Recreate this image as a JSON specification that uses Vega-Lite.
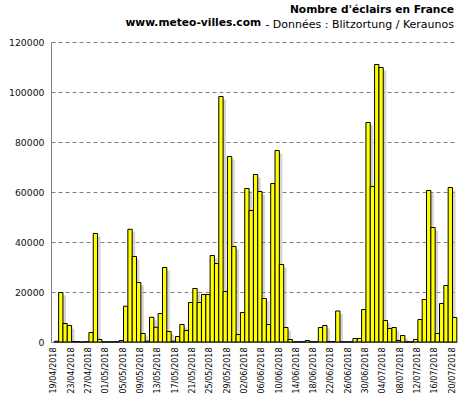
{
  "$schema": "https://vega.github.io/schema/vega-lite/v6.json",
  "width": 406,
  "height": 300,
  "autosize": {"type": "none"},
  "padding": {"left": 51, "top": 42, "right": 3, "bottom": 56},
  "background": "white",
  "title": {
    "text": ["Nombre d'éclairs en France", "www.meteo-villes.com\u00a0\u00a0\u00a0\u00a0\u00a0\u00a0\u00a0\u00a0\u00a0\u00a0\u00a0\u00a0\u00a0\u00a0\u00a0\u00a0\u00a0\u00a0\u00a0\u00a0\u00a0\u00a0\u00a0\u00a0\u00a0\u00a0\u00a0\u00a0\u00a0\u00a0\u00a0\u00a0\u00a0\u00a0\u00a0\u00a0\u00a0\u00a0\u00a0\u00a0\u00a0\u00a0\u00a0\u00a0\u00a0\u00a0\u00a0\u00a0\u00a0\u00a0\u00a0\u00a0\u200b"],
    "subtitle": "- Données : Blitzortung / Keraunos",
    "anchor": "end",
    "frame": "group",
    "font": "DejaVu Sans",
    "fontSize": 10.67,
    "fontWeight": "bold",
    "lineHeight": 13.5,
    "color": "#000000",
    "subtitleFont": "DejaVu Sans",
    "subtitleFontSize": 11,
    "subtitleFontWeight": "normal",
    "subtitleColor": "#000000",
    "subtitlePadding": -10,
    "offset": 7,
    "dx": -3
  },
  "config": {
    "view": {"stroke": null},
    "axis": {"labelFont": "DejaVu Sans", "titleFont": "DejaVu Sans"}
  },
  "data": {
    "values": [
      {"d": "19/04/2018", "v": 300}, {"d": "20/04/2018", "v": 19800}, {"d": "21/04/2018", "v": 7400}, {"d": "22/04/2018", "v": 6600},
      {"d": "23/04/2018", "v": 150}, {"d": "24/04/2018", "v": 150}, {"d": "25/04/2018", "v": 0}, {"d": "26/04/2018", "v": 150},
      {"d": "27/04/2018", "v": 3800}, {"d": "28/04/2018", "v": 43400}, {"d": "29/04/2018", "v": 1000}, {"d": "30/04/2018", "v": 100},
      {"d": "01/05/2018", "v": 100}, {"d": "02/05/2018", "v": 100}, {"d": "03/05/2018", "v": 100}, {"d": "04/05/2018", "v": 600},
      {"d": "05/05/2018", "v": 14300}, {"d": "06/05/2018", "v": 45100}, {"d": "07/05/2018", "v": 34200}, {"d": "08/05/2018", "v": 23800},
      {"d": "09/05/2018", "v": 3400}, {"d": "10/05/2018", "v": 300}, {"d": "11/05/2018", "v": 9900}, {"d": "12/05/2018", "v": 5900},
      {"d": "13/05/2018", "v": 11400}, {"d": "14/05/2018", "v": 29800}, {"d": "15/05/2018", "v": 4200}, {"d": "16/05/2018", "v": 300},
      {"d": "17/05/2018", "v": 2200}, {"d": "18/05/2018", "v": 7000}, {"d": "19/05/2018", "v": 4600}, {"d": "20/05/2018", "v": 15800},
      {"d": "21/05/2018", "v": 21400}, {"d": "22/05/2018", "v": 15800}, {"d": "23/05/2018", "v": 19000}, {"d": "24/05/2018", "v": 19000},
      {"d": "25/05/2018", "v": 34600}, {"d": "26/05/2018", "v": 31400}, {"d": "27/05/2018", "v": 98200}, {"d": "28/05/2018", "v": 20200},
      {"d": "29/05/2018", "v": 74200}, {"d": "30/05/2018", "v": 38200}, {"d": "31/05/2018", "v": 3000}, {"d": "01/06/2018", "v": 11800},
      {"d": "02/06/2018", "v": 61400}, {"d": "03/06/2018", "v": 52600}, {"d": "04/06/2018", "v": 67000}, {"d": "05/06/2018", "v": 60200},
      {"d": "06/06/2018", "v": 17400}, {"d": "07/06/2018", "v": 7000}, {"d": "08/06/2018", "v": 63400}, {"d": "09/06/2018", "v": 76600},
      {"d": "10/06/2018", "v": 31000}, {"d": "11/06/2018", "v": 5800}, {"d": "12/06/2018", "v": 1000}, {"d": "13/06/2018", "v": 100},
      {"d": "14/06/2018", "v": 100}, {"d": "15/06/2018", "v": 100}, {"d": "16/06/2018", "v": 600}, {"d": "17/06/2018", "v": 100},
      {"d": "18/06/2018", "v": 100}, {"d": "19/06/2018", "v": 5800}, {"d": "20/06/2018", "v": 6600}, {"d": "21/06/2018", "v": 200},
      {"d": "22/06/2018", "v": 200}, {"d": "23/06/2018", "v": 12400}, {"d": "24/06/2018", "v": 100}, {"d": "25/06/2018", "v": 100},
      {"d": "26/06/2018", "v": 100}, {"d": "27/06/2018", "v": 1400}, {"d": "28/06/2018", "v": 1400}, {"d": "29/06/2018", "v": 13000},
      {"d": "30/06/2018", "v": 87800}, {"d": "01/07/2018", "v": 62200}, {"d": "02/07/2018", "v": 111000}, {"d": "03/07/2018", "v": 109800},
      {"d": "04/07/2018", "v": 8600}, {"d": "05/07/2018", "v": 5400}, {"d": "06/07/2018", "v": 5800}, {"d": "07/07/2018", "v": 600},
      {"d": "08/07/2018", "v": 2600}, {"d": "09/07/2018", "v": 100}, {"d": "10/07/2018", "v": 100}, {"d": "11/07/2018", "v": 1000},
      {"d": "12/07/2018", "v": 9000}, {"d": "13/07/2018", "v": 17000}, {"d": "14/07/2018", "v": 60600}, {"d": "15/07/2018", "v": 45800},
      {"d": "16/07/2018", "v": 3400}, {"d": "17/07/2018", "v": 15400}, {"d": "18/07/2018", "v": 22600}, {"d": "19/07/2018", "v": 61800},
      {"d": "20/07/2018", "v": 9800}
    ]
  },
  "encoding": {
    "x": {
      "field": "d",
      "type": "ordinal",
      "sort": null,
      "scale": {"paddingInner": 0, "paddingOuter": 0.4, "align": 0.95},
      "axis": {
        "title": null,
        "values": ["19/04/2018", "23/04/2018", "27/04/2018", "01/05/2018", "05/05/2018", "09/05/2018", "13/05/2018", "17/05/2018", "21/05/2018", "25/05/2018", "29/05/2018", "02/06/2018", "06/06/2018", "10/06/2018", "14/06/2018", "18/06/2018", "22/06/2018", "26/06/2018", "30/06/2018", "04/07/2018", "08/07/2018", "12/07/2018", "16/07/2018", "20/07/2018"],
        "bandPosition": 0,
        "labelAngle": -90,
        "labelAlign": "right",
        "labelBaseline": "middle",
        "labelOffset": -2,
        "labelFontSize": 8,
        "labelColor": "#000000",
        "labelPadding": 5,
        "ticks": false,
        "domainColor": "#808080",
        "grid": false
      }
    },
    "y": {
      "field": "v",
      "type": "quantitative",
      "scale": {"domain": [0, 120000], "nice": false},
      "axis": {
        "title": null,
        "values": [0, 20000, 40000, 60000, 80000, 100000, 120000],
        "format": "d",
        "labelFontSize": 9.3,
        "labelColor": "#111111",
        "labelPadding": 7,
        "ticks": false,
        "domainColor": "#808080",
        "grid": true,
        "gridColor": "#808080",
        "gridDash": [4, 3],
        "gridWidth": 1
      }
    }
  },
  "layer": [
    {
      "mark": {"type": "bar", "fill": "#888888", "opacity": 0.35, "xOffset": 3, "yOffset": 3, "clip": true, "strokeWidth": 0}
    },
    {
      "mark": {"type": "bar", "fill": "#FFFF00", "stroke": "#000000", "strokeWidth": 1}
    }
  ]
}
